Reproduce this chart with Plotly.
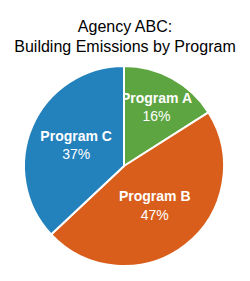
import plotly.graph_objects as go

labels = ["Program A", "Program B", "Program C"]
values = [16, 47, 37]
colors = ["#5DA541", "#D95E1B", "#2381BC"]

fig = go.Figure(go.Pie(
    labels=labels,
    values=values,
    sort=False,
    direction="clockwise",
    rotation=0,
    marker=dict(colors=colors, line=dict(color="white", width=2)),
    texttemplate="<b>%{label}</b><br>%{percent:.0%}",
    textposition="inside",
    insidetextorientation="horizontal",
    textfont=dict(family="Liberation Sans, Arial, sans-serif", size=14, color="white"),
    hoverinfo="label+percent",
    showlegend=False,
))

fig.update_layout(
    width=250, height=281,
    margin=dict(l=24, r=26, t=66, b=15),
    paper_bgcolor="white",
    uniformtext=dict(minsize=14, mode="show"),
    title=dict(
        text="Agency ABC:<br>Building Emissions by Program",
        x=0.5, xanchor="center", y=0.8875, yanchor="top",
        font=dict(family="Liberation Sans, Arial, sans-serif", size=16, color="black"),
    ),
)

fig.write_html("out.html")
